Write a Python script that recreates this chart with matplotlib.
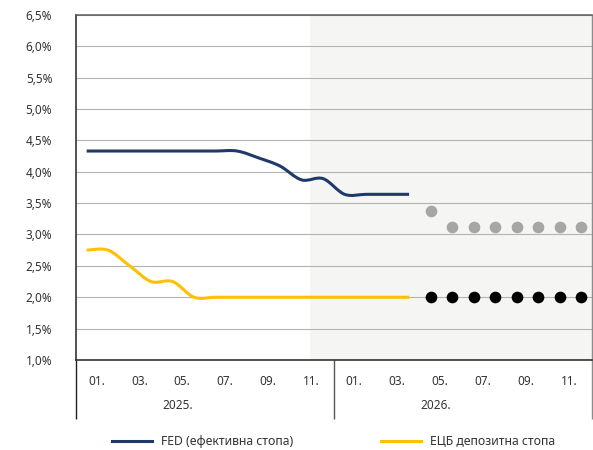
import matplotlib as mpl
import matplotlib.pyplot as plt
from matplotlib.path import Path
from matplotlib.patches import PathPatch
from matplotlib.lines import Line2D
import numpy as np

mpl.rcParams["font.family"] = ["Noto Sans", "DejaVu Sans"]

# monthly values, Jan 2025 .. Apr 2026
fed_rate = [4.33, 4.33, 4.33, 4.33, 4.33, 4.33, 4.33, 4.33,
            4.22, 4.09, 3.87, 3.89, 3.64, 3.64, 3.64, 3.64]
ecb_rate = [2.75, 2.75, 2.50, 2.25, 2.25, 2.00, 2.00, 2.00,
            2.00, 2.00, 2.00, 2.00, 2.00, 2.00, 2.00, 2.00]

# expectations, May 2026 .. Dec 2026
fed_forecast = [3.37, 3.12, 3.12, 3.12, 3.12, 3.12, 3.12, 3.12]
ecb_forecast = [2.00, 2.00, 2.00, 2.00, 2.00, 2.00, 2.00, 2.00]

month_labels = ["01.", "03.", "05.", "07.", "09.", "11.",
                "01.", "03.", "05.", "07.", "09.", "11."]
year_labels = ["2025.", "2026."]

FED_COLOR = "#1f3a68"
ECB_COLOR = "#ffc000"
TEXT_COLOR = "#333333"


def smooth_path(x, y):
    """
    Excel-like smoothed line: cubic bezier segments through the points.
    """
    pts = np.column_stack([x, y]).astype(float)
    ext = np.vstack([pts[0], pts, pts[-1]])
    verts = [pts[0]]
    codes = [Path.MOVETO]
    for i in range(len(pts) - 1):
        p0, p1, p2, p3 = ext[i], ext[i + 1], ext[i + 2], ext[i + 3]
        verts += [p1 + (p2 - p0) / 6, p2 - (p3 - p1) / 6, p2]
        codes += [Path.CURVE4] * 3
    return Path(verts, codes)


fig = plt.figure(figsize=(5.93, 4.5), dpi=100)
ax = fig.add_axes([0.128, 0.2, 0.870, 0.767])

n_months = 24
ax.set_xlim(-0.5, n_months - 0.5)
ax.set_ylim(1.0, 6.5)

# forecast period background
ax.axvspan(10.38, n_months - 0.5, color="#f5f5f3", zorder=0, lw=0)

yticks = np.arange(1.0, 6.51, 0.5)
ax.set_yticks(yticks, [f"{v:.1f}%".replace(".", ",") for v in yticks])
ax.grid(axis="y", color="#b3b3b3", lw=0.8)
ax.set_axisbelow(True)

x_hist = np.arange(len(fed_rate))
x_fc = np.arange(len(fed_rate), len(fed_rate) + len(fed_forecast))

ax.add_patch(PathPatch(smooth_path(x_hist, fed_rate), fill=False,
                       edgecolor=FED_COLOR, lw=2.2, capstyle="butt", zorder=3))
ax.add_patch(PathPatch(smooth_path(x_hist, ecb_rate), fill=False,
                       edgecolor=ECB_COLOR, lw=2.2, capstyle="butt", zorder=3))

ax.plot(x_fc, fed_forecast, "o", color="#a6a6a6", ms=8.4, mec="none", zorder=4)
ax.plot(x_fc, ecb_forecast, "o", color="black", ms=8.4, mec="none", zorder=4)

# category axis
ax.set_xticks(np.arange(0, n_months, 2) + 0.45, month_labels)
ax.tick_params(axis="x", length=0, pad=11, labelsize=8.5, labelcolor=TEXT_COLOR)
ax.tick_params(axis="y", length=0, pad=17, labelsize=8.5, labelcolor=TEXT_COLOR)

trans = ax.get_xaxis_transform()
for i, year in enumerate(year_labels):
    ax.text(4.25 + 12 * i, -0.131, year, transform=trans, ha="center",
            va="center", fontsize=8.5, color=TEXT_COLOR)
for xpos, col in zip([-0.5, 11.5, n_months - 0.5], ["#222222", "#555555", "#8c8c8c"]):
    ax.plot([xpos, xpos], [0, -0.171], transform=trans, color=col, lw=1.0,
            clip_on=False, solid_capstyle="butt")

ax.spines["left"].set_color("#222222")
ax.spines["left"].set_linewidth(1.1)
ax.spines["bottom"].set_color("#222222")
ax.spines["bottom"].set_linewidth(1.1)
ax.spines["top"].set_color("#5a5a5a")
ax.spines["top"].set_linewidth(1.1)
ax.spines["right"].set_color("#8c8c8c")
ax.spines["right"].set_linewidth(1.0)

handles = [Line2D([], [], color=FED_COLOR, lw=2.2),
           Line2D([], [], color=ECB_COLOR, lw=2.2)]
fig.legend(handles, ["FED (ефективна стопа)", "ЕЦБ депозитна стопа"],
           loc="center", bbox_to_anchor=(0.562, 0.018), ncol=2, frameon=False,
           handlelength=3.3, handletextpad=0.7, columnspacing=7.2,
           fontsize=8.8, labelcolor=TEXT_COLOR)

fig.savefig("out.png", dpi=100)
plt.close("all")
